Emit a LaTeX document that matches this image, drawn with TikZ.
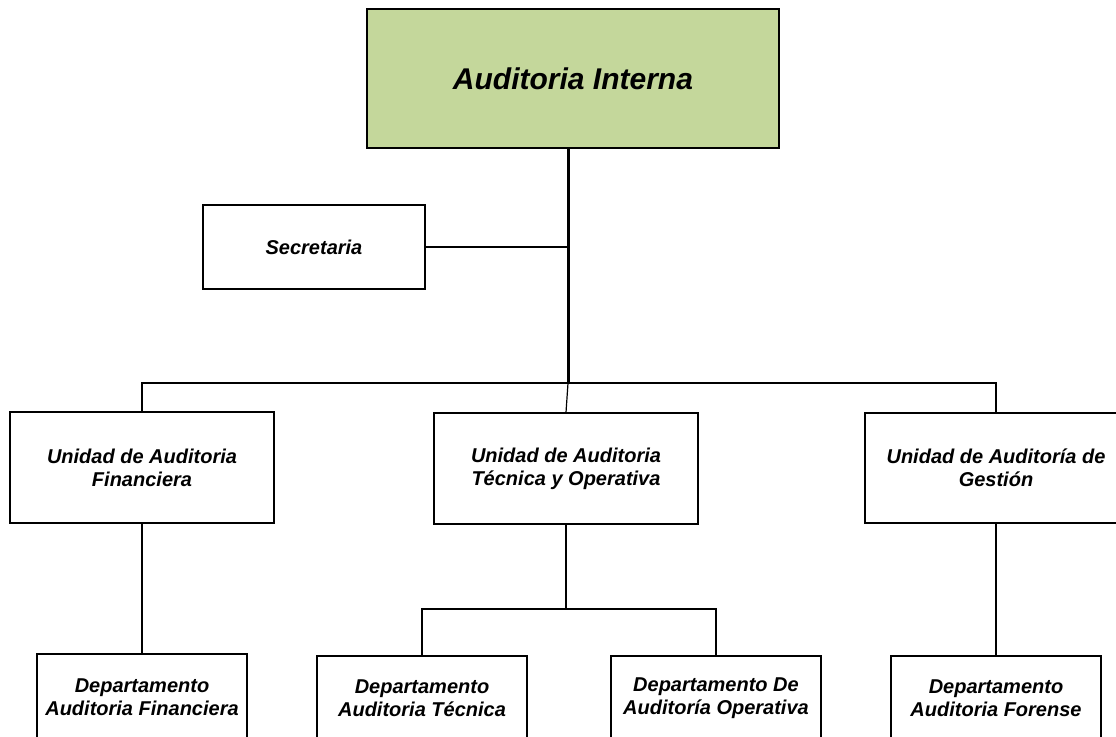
\documentclass[tikz,border=0pt]{standalone}
\usepackage{fontspec}
\setmainfont{Liberation Sans}
\definecolor{boxgreen}{RGB}{196,215,155}
\begin{document}
\begin{tikzpicture}[x=1pt,y=-1pt,
  box/.style={draw=black,line width=1.2pt,rectangle,inner sep=0pt,align=center,
    font=\fontsize{20}{23}\selectfont\bfseries\itshape},
  conn/.style={line width=1.2pt,draw=black},
  trunkline/.style={line width=3pt,draw=black}]
\useasboundingbox (0,0) rectangle (1116,736);
\clip (0,0) rectangle (1116,736);
% nodes
\node[box,fill=boxgreen,minimum width=412pt,minimum height=139pt,
  font=\fontsize{30}{34}\selectfont\bfseries\itshape] (top) at (573,78.5) {Auditoria Interna};
\node[box,minimum width=222pt,minimum height=84pt] (sec) at (314,247) {Secretaria};
\node[box,minimum width=264pt,minimum height=111pt] (u1) at (142,467.5) {Unidad de Auditoria\\Financiera};
\node[box,minimum width=264pt,minimum height=111pt] (u2) at (566,468.5) {Unidad de Auditoria\\Técnica y Operativa};
\node[box,minimum width=262pt,minimum height=110pt] (u3) at (996,468) {Unidad de Auditoría de\\Gestión};
\node[box,minimum width=210pt,minimum height=86pt] (d1) at (142,697) {Departamento\\Auditoria Financiera};
\node[box,minimum width=210pt,minimum height=84pt] (d2) at (422,698) {Departamento\\Auditoria Técnica};
\node[box,minimum width=210pt,minimum height=84pt] (d3) at (716,698) {Departamento De\\Auditoría Operativa};
\node[box,minimum width=210pt,minimum height=84pt] (d4) at (996,698) {Departamento\\Auditoria Forense};
% connectors
\coordinate (trunk) at (568,383);
\coordinate (mid) at (566,609);
\draw[trunkline] (top.south -| trunk) -- (trunk);
\draw[conn] (sec.east) -- (sec.east -| trunk);
\draw[conn] (u1.north) -- (u1.north |- trunk) -- (u3.north |- trunk) -- (u3.north);
\draw[conn] (trunk) -- (u2.north);
\draw[conn] (u1.south) -- (d1.north);
\draw[conn] (u2.south) -- (mid);
\draw[conn] (d2.north) -- (d2.north |- mid) -- (d3.north |- mid) -- (d3.north);
\draw[conn] (u3.south) -- (d4.north);
\end{tikzpicture}
\end{document}
